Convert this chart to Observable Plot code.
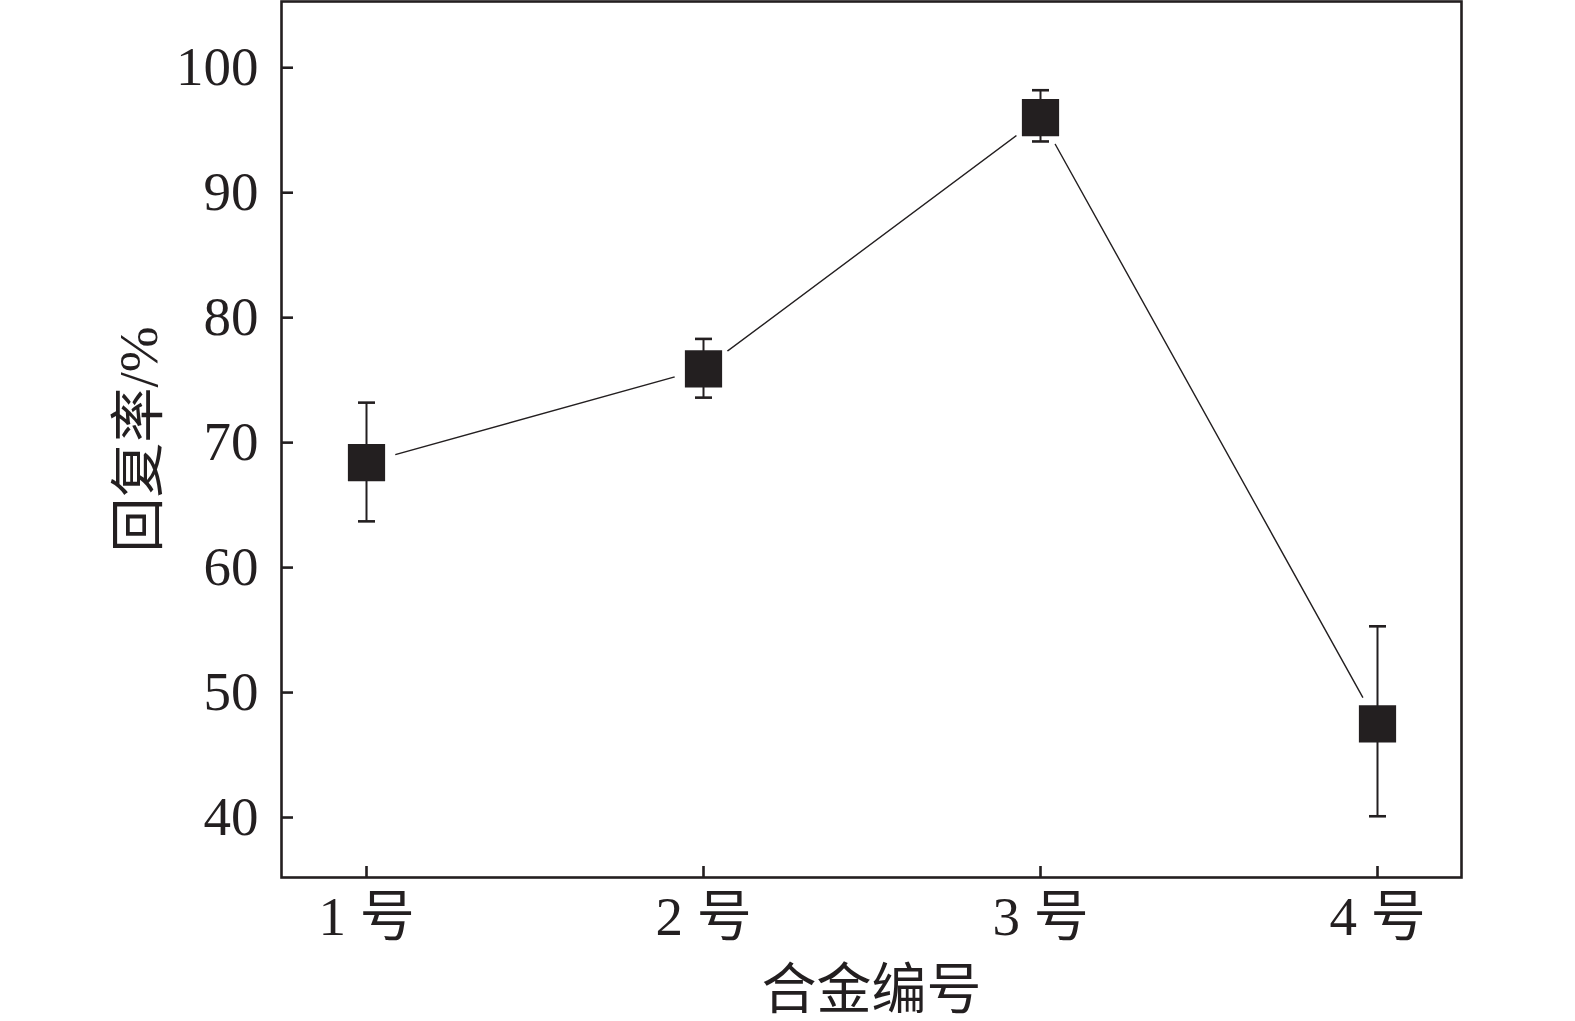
<!DOCTYPE html>
<html><head><meta charset="utf-8">
<script src="https://cdn.jsdelivr.net/npm/d3@7"></script>
<script src="https://cdn.jsdelivr.net/npm/@observablehq/plot@0.6"></script>
<style>body{margin:0;background:#fff}</style>
</head><body><div id="chart"></div>
<script>
const alloys = ["1 号", "2 号", "3 号", "4 号"];
const recovery = [68.4, 75.9, 96.0, 47.5];
const errLow = [63.7, 73.6, 94.1, 40.1];
const errHigh = [73.2, 78.3, 98.2, 55.3];
const yTicks = [40, 50, 60, 70, 80, 90, 100];
const xLabel = "合金编号";
const yLabel = "回复率/%";

const data = alloys.map((a, i) => ({alloy: a, value: recovery[i], lo: errLow[i], hi: errHigh[i]}));
const ink = "#231f20";
const capSymbol = {draw(ctx) { ctx.moveTo(-8.5, 0); ctx.lineTo(8.5, 0); }};
const font = "Liberation Serif, Times New Roman, Noto Sans CJK SC, serif";

const chart = Plot.plot({
  width: 1575, height: 1021,
  marginLeft: 281, marginRight: 114, marginTop: 1, marginBottom: 144,
  style: {fontFamily: font, fontSize: "55px", color: ink, background: "#fff"},
  x: {type: "point", domain: alloys, padding: 0.25},
  y: {domain: [35.2, 105.3]},
  marks: [
    Plot.line(data, {x: "alloy", y: "value", stroke: ink, strokeWidth: 1.4}),
    Plot.dot(data, {x: "alloy", y: "value", r: 30, fill: "#fff", stroke: "none"}),
    Plot.ruleX(data, {x: "alloy", y1: "lo", y2: "hi", stroke: ink, strokeWidth: 2}),
    Plot.dot(data, {x: "alloy", y: "lo", symbol: capSymbol, stroke: ink, strokeWidth: 2.6}),
    Plot.dot(data, {x: "alloy", y: "hi", symbol: capSymbol, stroke: ink, strokeWidth: 2.6}),
    Plot.dot(data, {x: "alloy", y: "value", symbol: "square", r: 21, fill: ink, stroke: "none"}),
    Plot.axisY(yTicks, {tickSize: -12, text: null, label: null, stroke: ink, strokeWidth: 2.6}),
    Plot.axisY(yTicks, {tickSize: 0, tickPadding: 23, fill: ink, label: yLabel, labelAnchor: "center", labelArrow: "none", labelOffset: 164}),
    Plot.axisX({tickSize: -11, text: null, label: null, stroke: ink, strokeWidth: 2.6}),
    Plot.axisX({tickSize: 0, tickPadding: 18, fill: ink, label: xLabel, labelAnchor: "center", labelArrow: "none", labelOffset: 130}),
    Plot.frame({stroke: ink, strokeWidth: 2.6})
  ]
});
document.getElementById("chart").appendChild(chart);
</script>
</body></html>
